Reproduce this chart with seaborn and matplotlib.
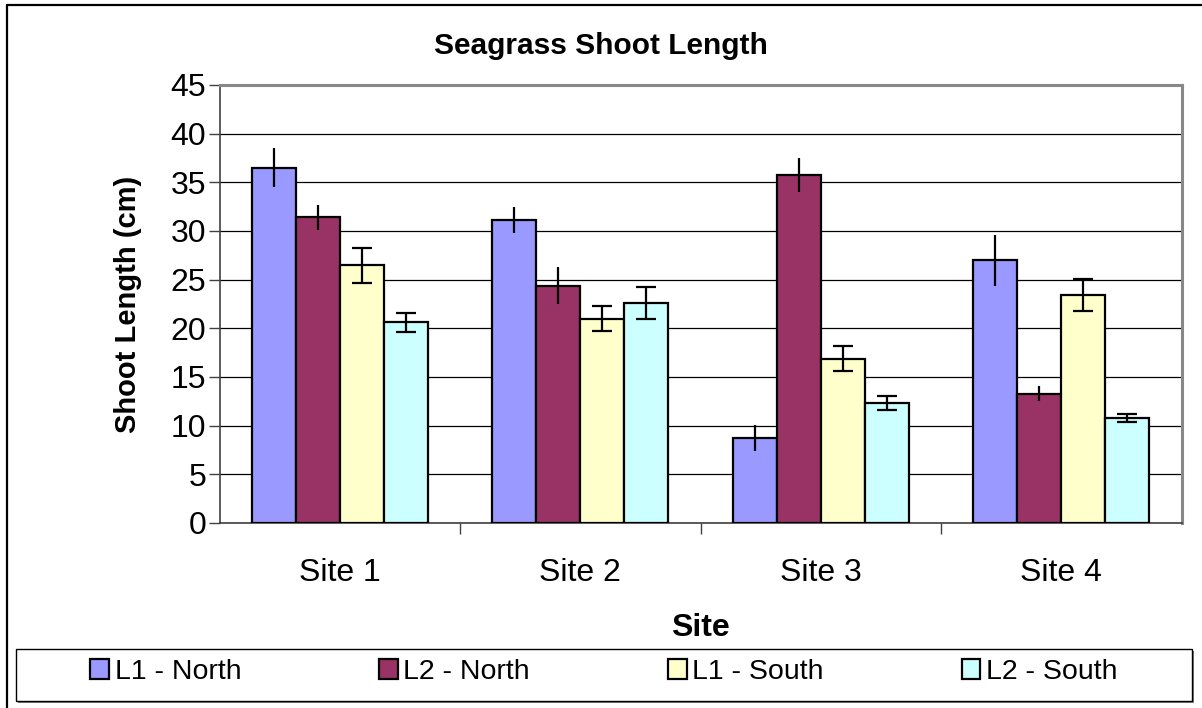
import numpy as np
import pandas as pd
import matplotlib
matplotlib.use('Agg')
import matplotlib.pyplot as plt
import seaborn as sns
from matplotlib.patches import Rectangle
from matplotlib.lines import Line2D

# Daten
sites = ['Site 1', 'Site 2', 'Site 3', 'Site 4']
series = ['L1 - North', 'L2 - North', 'L1 - South', 'L2 - South']
l1_north = [36.5, 31.1, 8.7, 27.0]
l2_north = [31.4, 24.4, 35.8, 13.3]
l1_south = [26.5, 21.0, 16.9, 23.4]
l2_south = [20.6, 22.6, 12.3, 10.8]
err_l1_north = [2.0, 1.35, 1.35, 2.6]
err_l2_north = [1.3, 1.95, 1.75, 0.8]
err_l1_south = [1.8, 1.3, 1.3, 1.65]
err_l2_south = [1.0, 1.6, 0.7, 0.45]
colors = ['#9999FF', '#993366', '#FFFFCC', '#CCFFFF']

values = [l1_north, l2_north, l1_south, l2_south]
errors = [err_l1_north, err_l2_north, err_l1_south, err_l2_south]
caps = [0, 0, 7, 7]

df = pd.DataFrame({
    'Site': [s for _ in series for s in sites],
    'Series': [n for n in series for _ in sites],
    'Length': [v for vals in values for v in vals],
})

sns.set_style('white')
plt.rcParams['font.family'] = ['Liberation Sans', 'DejaVu Sans']
plt.rcParams['text.color'] = 'black'
plt.rcParams['axes.labelcolor'] = 'black'
plt.rcParams['xtick.color'] = 'black'
plt.rcParams['ytick.color'] = 'black'

W, H = 1202, 708
fig = plt.figure(figsize=(W / 100, H / 100), dpi=100)
ax = fig.add_axes([219.5 / W, 1 - 523 / H, 962 / W, 438 / H])

sns.barplot(data=df, x='Site', y='Length', hue='Series', hue_order=series,
            palette=colors, edgecolor='black', linewidth=1.6, width=0.732,
            errorbar=None, saturation=1, ax=ax, zorder=3)

# Fehlerbalken
for cont, errs, cap in zip(ax.containers, errors, caps):
    xs = [b.get_x() + b.get_width() / 2 for b in cont]
    ys = [b.get_height() for b in cont]
    ax.errorbar(xs, ys, yerr=errs, fmt='none', ecolor='black', elinewidth=1.6,
                capsize=cap, capthick=1.6, zorder=4)

handles, labels = ax.get_legend_handles_labels()
ax.get_legend().remove()

ax.set_ylim(0, 45)
ax.set_xlim(-0.5, 3.5)
ax.set_yticks(range(0, 46, 5))
ax.grid(axis='y', color='black', linewidth=0.9, zorder=0)
ax.set_axisbelow(True)
ax.tick_params(axis='y', which='major', direction='out', length=8, width=1,
               color='#404040', labelsize=23, pad=1.5, left=True)
ax.tick_params(axis='x', which='major', length=0, labelsize=23, pad=25)
ax.set_xticks([0.5, 1.5, 2.5], minor=True)
ax.tick_params(axis='x', which='minor', direction='out', length=8, width=1,
               color='#404040', bottom=True)

for side in ['top', 'right']:
    ax.spines[side].set_color('#888888')
    ax.spines[side].set_linewidth(2.2)
for side in ['left', 'bottom']:
    ax.spines[side].set_color('#404040')
    ax.spines[side].set_linewidth(1.2)

ax.set_xlabel('Site', fontsize=23, fontweight='bold', labelpad=18)
ax.set_ylabel('Shoot Length (cm)', fontsize=21, fontweight='bold', labelpad=21)
fig.text(0.5, 1 - 46 / H, 'Seagrass Shoot Length', ha='center', va='center',
         fontsize=21.5, fontweight='bold')

# Rahmen des Diagramms
fig.add_artist(Line2D([7 / W, 7 / W], [0, 1 - 5 / H], transform=fig.transFigure,
                      color='black', linewidth=1.6))
fig.add_artist(Line2D([7 / W, 1], [1 - 5 / H, 1 - 5 / H], transform=fig.transFigure,
                      color='black', linewidth=1.6))

# Legendenrahmen mit Schatten
lx0, ly0, lx1, ly1 = 16, 649, 1192, 701
fig.add_artist(Rectangle(((lx0 + 2) / W, 1 - (ly1 + 2) / H), (lx1 - lx0) / W,
                         (ly1 - ly0) / H, transform=fig.transFigure,
                         facecolor='#808080', edgecolor='none', zorder=1))
fig.add_artist(Rectangle((lx0 / W, 1 - ly1 / H), (lx1 - lx0) / W,
                         (ly1 - ly0) / H, transform=fig.transFigure,
                         facecolor='white', edgecolor='black', linewidth=1, zorder=2))

leg = fig.legend(handles, labels, ncol=4, loc='center',
                 bbox_to_anchor=((lx0 + lx1) / 2 / W, 1 - 672 / H),
                 frameon=False, fontsize=20.5, handlelength=0.65, handleheight=0.65,
                 handletextpad=0.2, columnspacing=4.85)
leg.set_zorder(3)
for h in leg.legend_handles:
    h.set_edgecolor('black')
    h.set_linewidth(1.6)

fig.savefig('out.png', dpi=100)
